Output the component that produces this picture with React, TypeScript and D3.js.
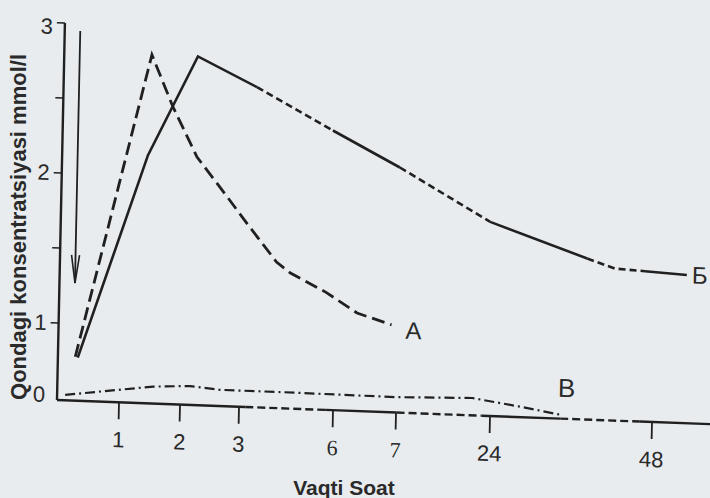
import * as d3 from 'd3';

// values: time in hours, concentration in mmol/l
const aTime = [0.28, 1.42, 1.78, 2.2, 2.77, 3.13, 4.1, 4.55, 5.7, 6.35, 6.9];
const aConc = [0.57, 2.81, 2.47, 2.14, 1.86, 1.71, 1.46, 1.39, 1.27, 1.14, 1.07];
const beTime = [0.32, 1.39, 2.18, 3.36, 5.81, 6.98, 23.3, 37.9, 42, 52.7];
const beConc = [0.56, 2.14, 2.81, 2.62, 2.35, 2.12, 1.78, 1.56, 1.5, 1.475];
const veTime = [0.13, 1.55, 2.16, 2.67, 4.3, 7.06, 20.7, 28.9, 34.4];
const veConc = [0.07, 0.22, 0.245, 0.21, 0.21, 0.2, 0.225, 0.13, 0.05];

const xTicks = [1, 2, 3, 6, 7, 24, 48];
const yTicks = [1, 1.5, 2, 2.5, 3];
const yLabels = [0, 1, 2, 3];
// broken stretches of the time axis and of curve Б (drawn dashed)
const axisBreaks = [[3.2, 5.75], [7.1, 22.5], [34.4, 46.2]];
const curveBreaks = [[3.36, 5.81], [6.98, 23.3], [37.9, 46.5]];
// the downward arrow near the start
const arrowTime = 0.25;
const arrowFrom = 2.95;
const arrowTo = 1.27;

const W = 710;
const H = 498;
const ink = '#202020';
const font = '"Liberation Sans", Arial, sans-serif';

// the scan is slightly skewed, so the whole plot sits in a sheared frame
const frame = 'matrix(1,0.037,-0.021,1,57,400)';

const x = d3
  .scaleLinear()
  .domain([0, 1, 2, 3, 6, 7, 24, 48, 58])
  .range([0, 62, 123, 182, 276, 339, 433, 595, 662.5]);
const y = d3.scaleLinear().domain([0, 1, 3]).range([0, -77, -377]);

type Pt = { t: number; px: number; py: number };

function splitAtBreaks(ts: number[], cs: number[], breaks: number[][]) {
  const inBreak = (t: number) => breaks.some(([a, b]) => t > a && t < b);
  const bounds = breaks.flat();
  const pts: Pt[] = [];
  for (let i = 0; i < ts.length; i++) {
    const p = { t: ts[i], px: x(ts[i]), py: y(cs[i]) };
    if (i > 0) {
      const q = pts[pts.length - 1];
      bounds
        .filter((b) => b > q.t && b < p.t)
        .forEach((b) => {
          const f = (x(b) - q.px) / (p.px - q.px);
          pts.push({ t: b, px: x(b), py: q.py + f * (p.py - q.py) });
        });
    }
    pts.push(p);
  }
  const segs: { pts: Pt[]; broken: boolean }[] = [];
  let cur = [pts[0]];
  let curB = inBreak((pts[0].t + pts[1].t) / 2);
  for (let i = 1; i < pts.length; i++) {
    const b = inBreak((pts[i - 1].t + pts[i].t) / 2);
    if (b !== curB) {
      segs.push({ pts: cur, broken: curB });
      cur = [pts[i - 1]];
      curB = b;
    }
    cur.push(pts[i]);
  }
  segs.push({ pts: cur, broken: curB });
  return segs;
}

const linePx = d3
  .line<Pt>()
  .x((d) => d.px)
  .y((d) => d.py);

const lineData = (ts: number[], cs: number[]) =>
  d3
    .line<number>()
    .x((_, i) => x(ts[i]))
    .y((d) => y(d))(cs) || '';

export default function App() {
  const axisSegs = splitAtBreaks([0, 58], [0, 0], axisBreaks);
  const beSegs = splitAtBreaks(beTime, beConc, curveBreaks);
  const aEnd = aTime.length - 1;
  const beEnd = beTime.length - 1;
  const veEnd = veTime.length - 1;
  const ax = x(arrowTime);

  return (
    <svg
      width={W}
      height={H}
      style={{ position: 'absolute', left: 0, top: 0 }}
      fontFamily={font}
    >
      <rect width={W} height={H} fill="#e8ecef" />

      <g transform={frame}>
        {/* time axis */}
        {axisSegs.map((s, i) => (
          <path
            key={i}
            d={linePx(s.pts) || ''}
            fill="none"
            stroke={ink}
            strokeWidth={2.4}
            strokeDasharray={s.broken ? '8 4' : undefined}
          />
        ))}
        {xTicks.map((t) => (
          <g key={t} transform={`translate(${x(t)},0)`}>
            <line y1={0} y2={17} stroke={ink} strokeWidth={1.8} />
            <text
              y={45}
              textAnchor="middle"
              fontSize={22}
              fill="#2a2a2a"
              fontFamily={t === 6 || t === 7 ? '"Liberation Serif", serif' : font}
            >
              {t}
            </text>
          </g>
        ))}

        {/* concentration axis */}
        <line x1={0} x2={0} y1={0} y2={y(3)} stroke={ink} strokeWidth={2.4} />
        {yTicks.map((v) => (
          <line key={v} x1={-8} x2={0} y1={y(v)} y2={y(v)} stroke={ink} strokeWidth={1.6} />
        ))}
        {yLabels.map((v) => (
          <text
            key={v}
            x={-12}
            y={v === 0 ? y(v) - 5 : v === 3 ? y(v) + 4 : y(v)}
            textAnchor="end"
            dominantBaseline="central"
            fontSize={22}
            fill="#2a2a2a"
          >
            {v}
          </text>
        ))}

        {/* arrow */}
        <line x1={ax} x2={ax} y1={y(arrowFrom)} y2={y(arrowTo)} stroke={ink} strokeWidth={1.8} />
        <path
          d={`M${ax - 4},${y(arrowTo) - 28} L${ax},${y(arrowTo)} L${ax + 4},${y(arrowTo) - 28}`}
          fill="none"
          stroke={ink}
          strokeWidth={1.6}
        />

        {/* curve В */}
        <path
          d={lineData(veTime, veConc)}
          fill="none"
          stroke={ink}
          strokeWidth={2.2}
          strokeDasharray="10 4 2 4"
        />
        {/* curve А */}
        <path
          d={lineData(aTime, aConc)}
          fill="none"
          stroke={ink}
          strokeWidth={2.8}
          strokeDasharray="13 6"
        />
        {/* curve Б */}
        {beSegs.map((s, i) => (
          <path
            key={i}
            d={linePx(s.pts) || ''}
            fill="none"
            stroke={ink}
            strokeWidth={2.6}
            strokeDasharray={s.broken ? '7 4' : undefined}
          />
        ))}

        <text
          x={x(aTime[aEnd]) + 14}
          y={y(aConc[aEnd]) + 5}
          dominantBaseline="central"
          fontSize={24}
          fill="#2a2a2a"
        >
          А
        </text>
        <text
          x={x(beTime[beEnd]) + 5}
          y={y(beConc[beEnd])}
          dominantBaseline="central"
          fontSize={24}
          fill="#2a2a2a"
        >
          Б
        </text>
        <text
          x={x(veTime[veEnd]) - 3}
          y={y(veConc[veEnd]) - 27}
          dominantBaseline="central"
          fontSize={26}
          fill="#2a2a2a"
        >
          В
        </text>
      </g>

      <text
        transform="translate(18,227) rotate(-90)"
        textAnchor="middle"
        dominantBaseline="central"
        fontSize={22}
        fontWeight="bold"
        fill="#2a2a2a"
      >
        Qondagi konsentratsiyasi mmol/l
      </text>
      <text
        x={344}
        y={495}
        textAnchor="middle"
        fontSize={21}
        fontWeight="bold"
        fill="#2a2a2a"
      >
        Vaqti Soat
      </text>
    </svg>
  );
}
